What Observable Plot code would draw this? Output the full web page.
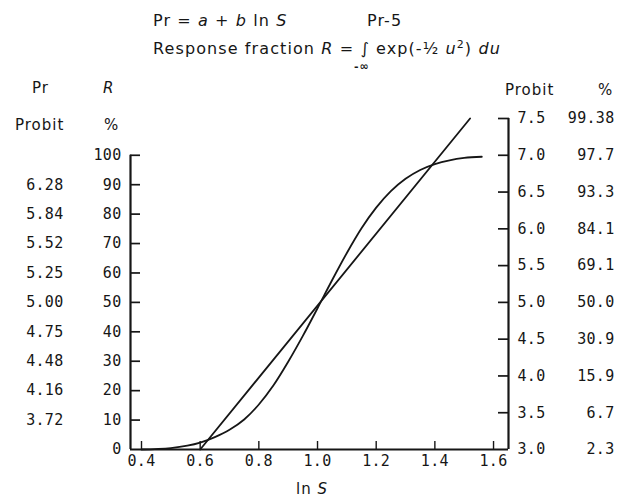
<!DOCTYPE html>
<html><head><meta charset="utf-8">
<script src="https://cdn.jsdelivr.net/npm/d3@7"></script>
<script src="https://cdn.jsdelivr.net/npm/@observablehq/plot@0.6"></script>
<style>
body{margin:0;background:#fff;}
#wrap{position:relative;width:628px;height:498px;font-family:"DejaVu Sans",sans-serif;color:#161616;}
#wrap svg{position:absolute;left:0;top:0;}
.t{position:absolute;white-space:nowrap;font-size:15px;letter-spacing:1px;line-height:1;}
.ti{font-size:16px;letter-spacing:1.1px;}
</style></head><body>
<div id="wrap"></div>
<script>
// ---- data ----
const lnS = [0.40, 0.50, 0.60, 0.65, 0.70, 0.75, 0.80, 0.85, 0.90, 0.95, 1.00, 1.05, 1.10, 1.15, 1.20, 1.25, 1.30, 1.35, 1.40, 1.45, 1.50, 1.56];
const responsePct = [0.0, 0.5, 2.3, 4.2, 6.7, 10.2, 15.3, 21.8, 29.8, 38.6, 48.0, 57.6, 66.8, 75.2, 82.2, 87.8, 92.0, 95.0, 97.0, 98.3, 99.1, 99.5];
const probitLineLnS = [0.60, 1.52];
const probitLineValue = [3.0, 7.5];

const xTicks = [0.4, 0.6, 0.8, 1.0, 1.2, 1.4, 1.6];
const rTicks = [0, 10, 20, 30, 40, 50, 60, 70, 80, 90, 100];
const leftProbitAtR = [10, 20, 30, 40, 50, 60, 70, 80, 90];
const leftProbitLabels = ["3.72", "4.16", "4.48", "4.75", "5.00", "5.25", "5.52", "5.84", "6.28"];
const rightProbit = [3.0, 3.5, 4.0, 4.5, 5.0, 5.5, 6.0, 6.5, 7.0, 7.5];
const rightProbitLabels = ["3.0", "3.5", "4.0", "4.5", "5.0", "5.5", "6.0", "6.5", "7.0", "7.5"];
const rightPctLabels = ["2.3", "6.7", "15.9", "30.9", "50.0", "69.1", "84.1", "93.3", "97.7", "99.38"];

// probit axis shares the frame with R: probit 3 ↔ R 0, probit 7 ↔ R 100
const probitToR = p => (p - 3) * 25;
const xDomain = [0.3625, 1.651];
const yDomain = [0, probitToR(7.5)];

const curve = lnS.map((x, i) => ({x, r: responsePct[i]}));
const pline = probitLineLnS.map((x, i) => ({x, p: probitLineValue[i]}));
const leftProbitMap = new Map(leftProbitAtR.map((r, i) => [r, leftProbitLabels[i]]));
const rightPos = rightProbit.map(probitToR);
const rightProbitMap = new Map(rightPos.map((r, i) => [r, rightProbitLabels[i]]));
const rightPctMap = new Map(rightPos.map((r, i) => [r, rightPctLabels[i]]));
const ink = "#161616";

const chart = Plot.plot({
  width: 628, height: 498,
  marginLeft: 130, marginRight: 120, marginTop: 118, marginBottom: 49,
  x: {domain: xDomain},
  y: {domain: yDomain},
  style: {fontFamily: "'DejaVu Sans Mono', monospace", fontSize: "15px", color: ink, background: "transparent", letterSpacing: "0.3px"},
  marks: [
    // left R axis
    Plot.axisY(rTicks.slice(1), {anchor: "left", tickSize: -10, tickFormat: () => "", strokeWidth: 1.7, label: null}),
    Plot.axisY(rTicks, {anchor: "left", tickSize: 0, tickPadding: 9, label: null}),
    Plot.axisY(leftProbitAtR, {anchor: "left", tickSize: 0, tickPadding: 67, tickFormat: d => leftProbitMap.get(d), label: null}),
    // right probit axis
    Plot.axisY(rightPos.slice(1), {anchor: "right", tickSize: -11, tickFormat: () => "", strokeWidth: 1.7, label: null}),
    Plot.axisY(rightPos, {anchor: "right", tickSize: 0, tickPadding: 9, tickFormat: d => rightProbitMap.get(d), label: null}),
    Plot.axisY(rightPos, {anchor: "right", tickSize: 0, tickPadding: 106, textAnchor: "end", tickFormat: d => rightPctMap.get(d), label: null}),
    // x axis
    Plot.axisX(xTicks, {anchor: "bottom", tickSize: -8, tickPadding: 14, tickFormat: d => d.toFixed(1), strokeWidth: 1.4, label: null}),
    // axis lines
    Plot.ruleY([0], {stroke: ink, strokeWidth: 2.2}),
    Plot.ruleX([xDomain[0]], {y1: 0, y2: 100, stroke: ink, strokeWidth: 2.2}),
    Plot.ruleX([xDomain[1]], {y1: 0, y2: yDomain[1], stroke: ink, strokeWidth: 2.2}),
    // curves
    Plot.line(pline, {x: "x", y: d => probitToR(d.p), stroke: ink, strokeWidth: 1.8}),
    Plot.line(curve, {x: "x", y: "r", curve: "monotone-x", stroke: ink, strokeWidth: 1.8})
  ]
});
const wrap = document.getElementById("wrap");
wrap.appendChild(chart);
const texts = [
  ["left:153px;top:13px", "Pr = <i>a</i> + <i>b</i> ln <i>S</i>", "ti"],
  ["left:367px;top:13px", "Pr-5", "ti"],
  ["left:153px;top:39px", "Response fraction <i>R</i> = ∫ exp(-½ <i>u</i><sup style='font-size:11px'>2</sup>) <i>du</i>", "ti"],
  ["left:354px;top:61px;font-size:11px;font-weight:bold", "-∞", ""],
  ["left:32px;top:81px", "Pr", ""],
  ["left:103px;top:81px", "<i>R</i>", ""],
  ["left:15px;top:118px", "Probit", ""],
  ["left:104px;top:118px", "%", ""],
  ["left:505px;top:83px", "Probit", ""],
  ["left:598px;top:83px", "%", ""],
  ["left:296px;top:482px", "ln <i>S</i>", ""]
];
for (const [pos, html, cls] of texts) {
  const d = document.createElement("div");
  d.className = "t " + cls; d.style.cssText = pos; d.innerHTML = html;
  wrap.appendChild(d);
}
</script>
</body></html>
